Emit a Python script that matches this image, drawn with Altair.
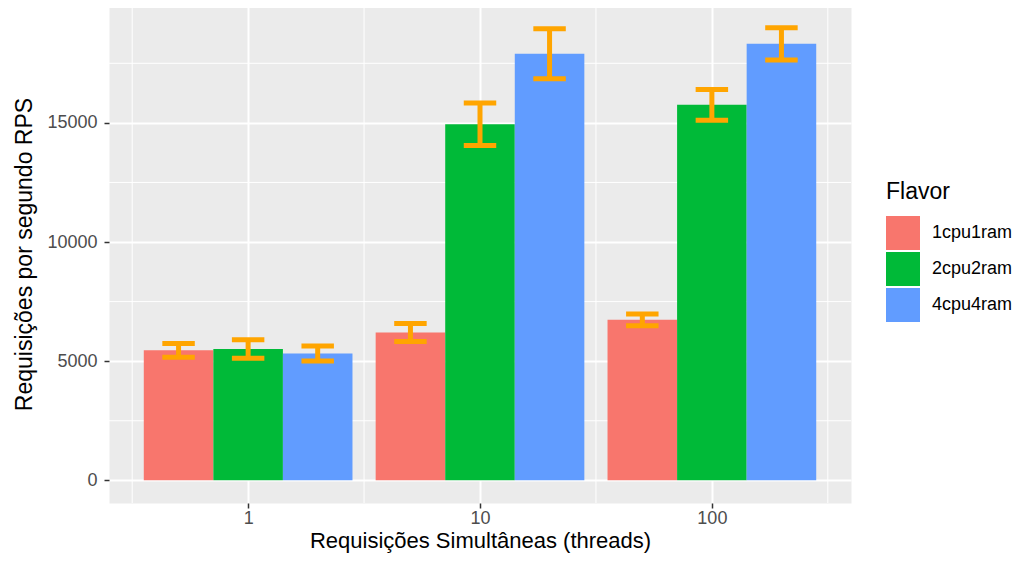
import altair as alt
import pandas as pd

threads = ["1", "10", "100"]
flavors = ["1cpu1ram", "2cpu2ram", "4cpu4ram"]
colors = ["#F8766D", "#00BA38", "#619CFF"]
rps = {
    "1cpu1ram": [5455, 6200, 6735],
    "2cpu2ram": [5510, 14945, 15755],
    "4cpu4ram": [5325, 17900, 18315],
}
sd = {
    "1cpu1ram": [290, 378, 250],
    "2cpu2ram": [390, 890, 645],
    "4cpu4ram": [315, 1050, 680],
}
minor_x = [0.5, 1.5, 2.5, 3.5]
minor_y = [2500, 7500, 12500, 17500]
major_y = [0, 5000, 10000, 15000]

rows = []
for fi, f in enumerate(flavors):
    for gi, t in enumerate(threads):
        rows.append({"threads": t, "flavor": f, "rps": rps[f][gi], "sd": sd[f][gi],
                     "gi": gi + 1, "fi": fi})
df = pd.DataFrame(rows)

max_hi = max(r + s for f in flavors for r, s in zip(rps[f], sd[f]))
ys = alt.Scale(domain=[-0.05 * max_hi, 1.05 * max_hi], nice=False, zero=False)
xs = alt.Scale(domain=[0.4, 3.6], nice=False, zero=False)

font = "Liberation Sans"
xa = alt.Axis(values=[1, 2, 3], labelExpr=f"{threads}[datum.value - 1]",
              title="Requisições Simultâneas (threads)", titlePadding=3, labelPadding=1,
              titleFontSize=22)
ya = alt.Axis(values=major_y, format="d", title="Requisições por segundo RPS",
              titlePadding=10, labelPadding=7)

base = alt.Chart(df).transform_calculate(
    xc="datum.gi + (datum.fi - 1) * 0.3",
).transform_calculate(
    x1="datum.xc - 0.15", x2="datum.xc + 0.15",
    c1="datum.xc - 0.07", c2="datum.xc + 0.07",
    lo="datum.rps - datum.sd", hi="datum.rps + datum.sd", base="0",
)

gx = alt.Chart(pd.DataFrame({"v": minor_x})).mark_rule(color="white", strokeWidth=1).encode(
    x=alt.X("v:Q", scale=xs, axis=xa))
gy = alt.Chart(pd.DataFrame({"v": minor_y})).mark_rule(color="white", strokeWidth=1).encode(
    y=alt.Y("v:Q", scale=ys, axis=ya))

bars = base.mark_bar().encode(
    x=alt.X("x1:Q", scale=xs, axis=xa),
    x2="x2:Q",
    y=alt.Y("rps:Q", scale=ys, axis=ya),
    y2="base:Q",
    color=alt.Color("flavor:N", scale=alt.Scale(domain=flavors, range=colors),
                    legend=alt.Legend(title="Flavor", orient="none", legendX=777, legendY=176,
                                      symbolType="square", symbolSize=1156,
                                      symbolStrokeWidth=0, symbolOpacity=1,
                                      rowPadding=2, labelOffset=12, titlePadding=12,
                                      padding=0)),
)
err = base.mark_rule(color="#FFA500", strokeWidth=5).encode(
    x=alt.X("xc:Q", scale=xs, axis=xa),
    y=alt.Y("lo:Q", scale=ys, axis=ya),
    y2="hi:Q",
)
cap_hi = base.mark_rule(color="#FFA500", strokeWidth=5).encode(
    x=alt.X("c1:Q", scale=xs, axis=xa), x2="c2:Q",
    y=alt.Y("hi:Q", scale=ys, axis=ya),
)
cap_lo = base.mark_rule(color="#FFA500", strokeWidth=5).encode(
    x=alt.X("c1:Q", scale=xs, axis=xa), x2="c2:Q",
    y=alt.Y("lo:Q", scale=ys, axis=ya),
)

chart = alt.layer(gx, gy, bars, err, cap_hi, cap_lo).properties(
    width=742, height=498,
    autosize=alt.AutoSizeParams(type="none"),
    padding={"left": 101, "top": -3, "right": 164, "bottom": 52},
).configure_view(
    fill="#EBEBEB", strokeOpacity=0,
).configure_axis(
    domain=False, gridColor="white", gridWidth=2,
    tickColor="#333333", tickSize=5, tickWidth=1.5,
    labelFont=font, labelFontSize=18, labelColor="#4D4D4D",
    titleFont=font, titleFontSize=23, titleColor="black", titleFontWeight="normal",
).configure_legend(
    labelFont=font, labelFontSize=18, labelColor="black",
    titleFont=font, titleFontSize=23, titleColor="black", titleFontWeight="normal",
)

chart.save("out.html", embed_options={"renderer": "svg", "actions": False})
